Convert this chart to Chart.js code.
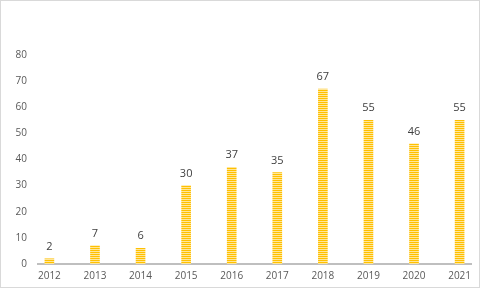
<!DOCTYPE html>
<html>
<head>
<meta charset="utf-8">
<script src="https://cdn.jsdelivr.net/npm/chart.js@4/dist/chart.umd.min.js"></script>
<style>
  html, body { margin: 0; padding: 0; background: #fff; }
  #wrap { position: relative; width: 480px; height: 288px; }
  #wrap::after {
    content: ''; position: absolute; left: 0; top: 0; right: 0; bottom: 0;
    border: 1px solid #d9d9d9; pointer-events: none;
  }
  canvas { display: block; }
</style>
</head>
<body>
<div id="wrap"><canvas id="grafico" width="480" height="288"></canvas></div>
<script>
'use strict';

// dati
const anni = [2012, 2013, 2014, 2015, 2016, 2017, 2018, 2019, 2020, 2021];
const valori = [2, 7, 6, 30, 37, 35, 67, 55, 46, 55];
const yTicks = [0, 10, 20, 30, 40, 50, 60, 70, 80];

const FONT = "'Open Sans', sans-serif";

// riempimento a righe orizzontali
function strisce() {
  const c = document.createElement('canvas');
  c.width = 1; c.height = 2;
  const g = c.getContext('2d');
  g.fillStyle = '#FFC000'; g.fillRect(0, 0, 1, 1);
  g.fillStyle = '#FFE699'; g.fillRect(0, 1, 1, 1);
  return g.createPattern(c, 'repeat');
}

// etichette sopra le barre
const etichette = {
  id: 'etichette',
  afterDatasetsDraw(chart) {
    const ctx = chart.ctx;
    const meta = chart.getDatasetMeta(0);
    ctx.save();
    ctx.font = '11px ' + FONT;
    ctx.fillStyle = '#404040';
    ctx.textAlign = 'center';
    ctx.textBaseline = 'alphabetic';
    meta.data.forEach((bar, i) => {
      ctx.fillText(String(valori[i]), bar.x, bar.y - 9);
    });
    ctx.restore();
  }
};

const ctx = document.getElementById('grafico').getContext('2d');

new Chart(ctx, {
  type: 'bar',
  data: {
    datasets: [{
      data: anni.map((a, i) => ({ x: a, y: valori[i] })),
      backgroundColor: strisce(),
      borderWidth: 0,
      barThickness: 9
    }]
  },
  options: {
    responsive: false,
    animation: false,
    layout: { padding: { top: 55, right: 9, left: 0, bottom: 0 } },
    plugins: { legend: { display: false }, tooltip: { enabled: false } },
    scales: {
      x: {
        type: 'linear',
        offset: false,
        min: anni[0] - 0.25,
        max: anni[anni.length - 1] + 0.25,
        afterBuildTicks: s => { s.ticks = anni.map(v => ({ value: v })); },
        afterFit: s => { s.height = 24; },
        grid: { display: false, drawTicks: false, offset: false },
        border: { display: true, color: '#BFBFBF', width: 2 },
        ticks: {
          color: '#595959', font: { family: FONT, size: 10 }, padding: 6,
          autoSkip: false, maxRotation: 0,
          callback: v => String(v)
        }
      },
      y: {
        min: 0,
        max: 80,
        afterBuildTicks: s => { s.ticks = yTicks.map(v => ({ value: v })); },
        afterFit: s => { s.width = 38; },
        grid: { display: false, drawTicks: false },
        border: { display: false },
        ticks: { color: '#595959', font: { family: FONT, size: 10 }, padding: 11 }
      }
    }
  },
  plugins: [etichette]
});
</script>
</body>
</html>
